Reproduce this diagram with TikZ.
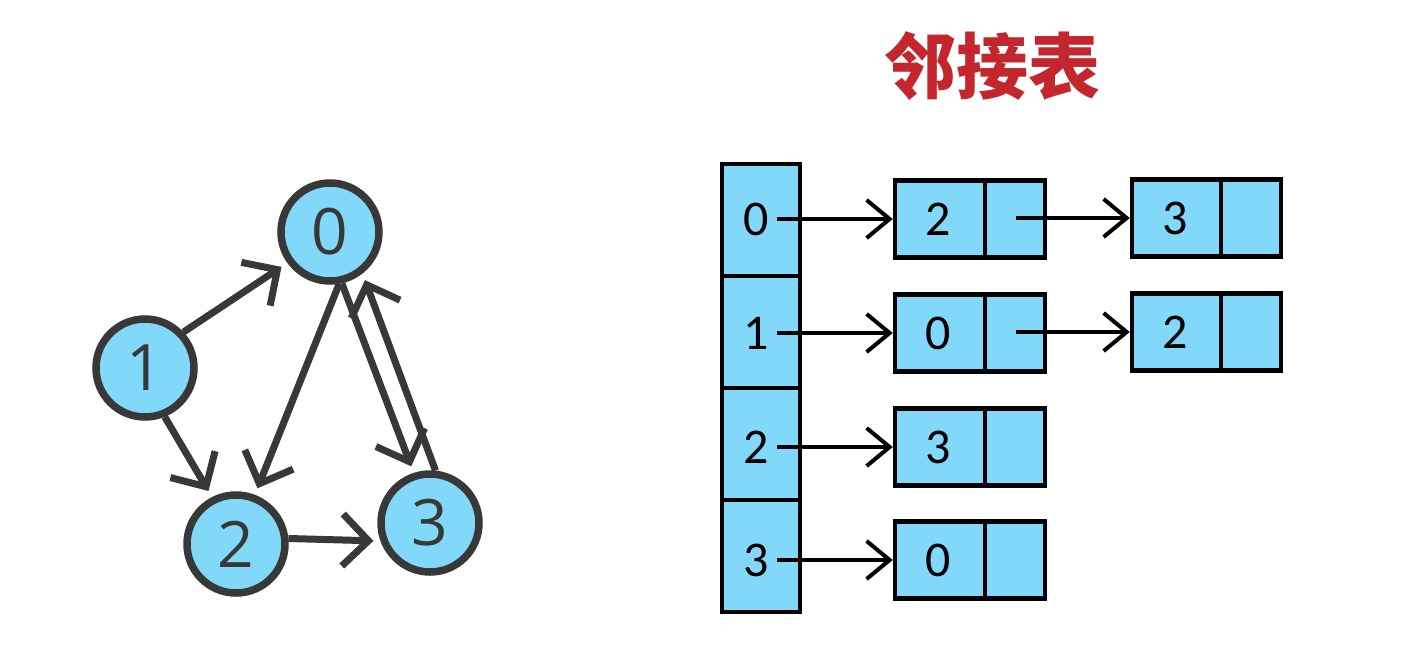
\documentclass[tikz,border=0pt]{standalone}
\usepackage{fontspec}
\newfontfamily\cjk{Noto Sans CJK SC}
\newfontfamily\gfont{Open Sans}
\newfontfamily\tfont{Carlito}
\usetikzlibrary{arrows.meta}
\definecolor{nodefill}{HTML}{82D8F8}
\definecolor{edgegray}{HTML}{383838}
\definecolor{titlered}{HTML}{C4262E}
\begin{document}
\begin{tikzpicture}[x=1pt,y=-1pt,
  vert/.style={circle, draw=edgegray, fill=nodefill, line width=7.5pt, minimum size=98pt, inner sep=0pt,
    font=\gfont\fontsize{64}{66}\selectfont, text=edgegray},
  gedge/.style={draw=edgegray, line width=7pt, shorten >=7pt, -{Straight Barb[length=26pt,width=52pt]}},
  cell/.style={draw=black, fill=nodefill, line width=4.5pt, inner sep=0pt},
  arrcell/.style={cell, minimum width=78pt, minimum height=112pt},
  lpart/.style={cell, minimum width=90pt, minimum height=77pt},
  rpart/.style={cell, minimum width=60pt, minimum height=77pt},
  lbl/.style={inner sep=0pt, font=\tfont\fontsize{50}{52}\selectfont},
  tarr/.style={draw=black, line width=4pt, -{Straight Barb[length=23pt,width=38pt]}}
]
\useasboundingbox (0,0) rectangle (1420,669);

% title
\node[text=titlered, font=\cjk\bfseries\fontsize{72}{72}\selectfont] (title) at (992,66) {邻接表};

% graph
\node[vert] (n0) at (330,232) {0};
\node[vert] (n1) at (145,368) {1};
\node[vert] (n2) at (236,544) {2};
\node[vert] (n3) at (430,523) {3};
\draw[gedge] (n1.43) -- (n0.216);
\draw[gedge] (n1.-68) -- (n2.117);
\draw[gedge] (n0.-80) -- (n2.69);
\draw[gedge] (n2.6) -- (n3.200);
\draw[gedge] (n0.-77) -- (n3.108);
\draw[gedge] (n3.84) -- (n0.-52);

% array
\foreach \i/\y in {0/220,1/332,2/444,3/556}{
  \node[arrcell] (a\i) at (761,\y) {};
}
\foreach \i/\y in {0/219,1/333,2/447,3/560}{
  \node[lbl] (at\i) at (756,\y) {\i};
  \coordinate (s\i) at (777,\y);
}

% first column lists
\node[lpart] (b0) at (940,219) {}; \node[rpart] (c0) at (1015,219) {};
\node[lpart] (b1) at (940,333) {}; \node[rpart] (c1) at (1015,333) {};
\node[lpart] (b2) at (940,447) {}; \node[rpart] (c2) at (1015,447) {};
\node[lpart] (b3) at (940,560) {}; \node[rpart] (c3) at (1015,560) {};
\node[lbl] (bt0) at (938,219) {2};
\node[lbl] (bt1) at (938,333) {0};
\node[lbl] (bt2) at (938,447) {3};
\node[lbl] (bt3) at (938,560) {0};

% second column lists
\node[lpart, minimum width=89pt] (d0) at (1176.5,218) {}; \node[rpart] (e0) at (1251,218) {};
\node[lpart, minimum width=89pt] (d1) at (1176.5,332) {}; \node[rpart] (e1) at (1251,332) {};
\node[lbl] (dt0) at (1175,218) {3};
\node[lbl] (dt1) at (1175,332) {2};

% pointers
\foreach \i in {0,1,2,3}{
  \draw[tarr] (s\i) -- (s\i -| b\i.west);
}
\coordinate (p0) at (1016,218);
\coordinate (p1) at (1016,332);
\draw[tarr] (p0) -- (p0 -| d0.west);
\draw[tarr] (p1) -- (p1 -| d1.west);
\end{tikzpicture}
\end{document}
